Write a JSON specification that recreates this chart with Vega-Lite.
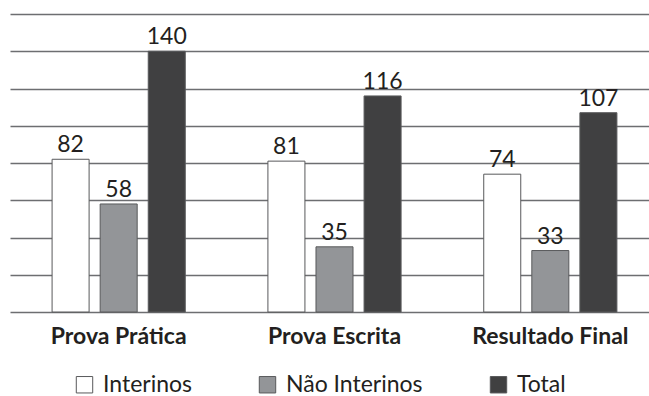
{
  "$schema": "https://vega.github.io/schema/vega-lite/v6.json",
  "width": 649,
  "height": 298,
  "padding": {"left": 10, "top": 14, "right": 0, "bottom": 84},
  "autosize": {"type": "none"},
  "background": "#ffffff",
  "config": {
    "view": {"stroke": null},
    "font": "Lato"
  },
  "data": {
    "values": [
      {"categoria": "Prova Prática", "grupo": "Interinos", "valor": 82},
      {"categoria": "Prova Prática", "grupo": "Não Interinos", "valor": 58},
      {"categoria": "Prova Prática", "grupo": "Total", "valor": 140},
      {"categoria": "Prova Escrita", "grupo": "Interinos", "valor": 81},
      {"categoria": "Prova Escrita", "grupo": "Não Interinos", "valor": 35},
      {"categoria": "Prova Escrita", "grupo": "Total", "valor": 116},
      {"categoria": "Resultado Final", "grupo": "Interinos", "valor": 74},
      {"categoria": "Resultado Final", "grupo": "Não Interinos", "valor": 33},
      {"categoria": "Resultado Final", "grupo": "Total", "valor": 107}
    ]
  },
  "encoding": {
    "x": {
      "field": "categoria",
      "type": "nominal",
      "sort": null,
      "scale": {"paddingInner": 0.383, "paddingOuter": 0.195},
      "axis": {
        "title": null,
        "domain": false,
        "ticks": false,
        "labelAngle": 0,
        "labelFont": "Lato",
        "labelFontWeight": "bold",
        "labelFontSize": 23,
        "labelColor": "#231f20",
        "labelPadding": 13
      }
    },
    "xOffset": {
      "field": "grupo",
      "type": "nominal",
      "sort": null,
      "scale": {"paddingInner": 0.23, "paddingOuter": 0}
    },
    "y": {
      "field": "valor",
      "type": "quantitative",
      "scale": {"domain": [0, 160], "nice": false},
      "axis": {
        "title": null,
        "domain": false,
        "ticks": false,
        "labels": false,
        "values": [0, 20, 40, 60, 80, 100, 120, 140, 160],
        "grid": true,
        "gridColor": "#6d6e71",
        "gridWidth": 1.3
      }
    }
  },
  "layer": [
    {
      "mark": {"type": "bar", "stroke": "#58595b", "strokeWidth": 1},
      "encoding": {
        "color": {
          "field": "grupo",
          "type": "nominal",
          "sort": null,
          "scale": {
            "domain": ["Interinos", "Não Interinos", "Total"],
            "range": ["#ffffff", "#939598", "#404041"]
          },
          "legend": {
            "title": null,
            "orient": "none",
            "direction": "horizontal",
            "legendX": 63,
            "legendY": 359,
            "symbolType": "square",
            "symbolSize": 270,
            "symbolStrokeColor": "#58595b",
            "symbolStrokeWidth": 1,
            "labelFont": "Lato",
            "labelFontSize": 23,
            "labelColor": "#231f20",
            "labelOffset": 7,
            "columnPadding": 64
          }
        }
      }
    },
    {
      "mark": {
        "type": "text",
        "baseline": "alphabetic",
        "dy": -7,
        "font": "Lato",
        "fontSize": 23,
        "color": "#231f20"
      },
      "encoding": {
        "text": {"field": "valor", "type": "quantitative"}
      }
    }
  ]
}
